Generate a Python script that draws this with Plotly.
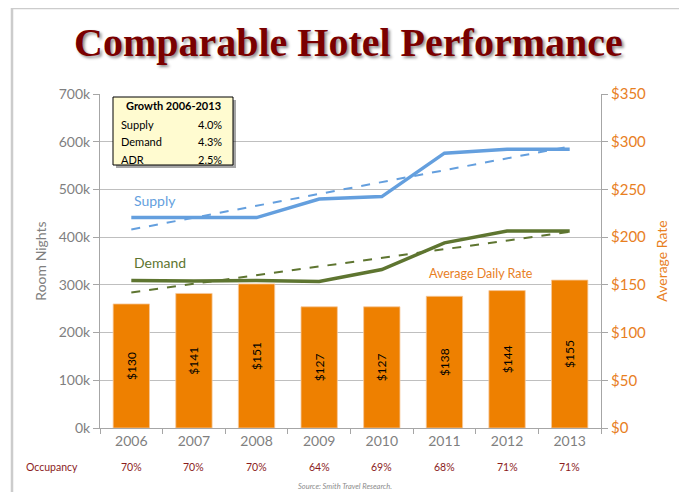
import plotly.graph_objects as go

years = ["2006", "2007", "2008", "2009", "2010", "2011", "2012", "2013"]
supply_k = [441, 441, 441, 480, 485, 576, 584, 584]
demand_k = [309, 308, 309, 307, 332, 388, 413, 413]
adr = [130, 141, 151, 127, 127, 138, 144, 155]
adr_labels = ["$130", "$141", "$151", "$127", "$127", "$138", "$144", "$155"]
occupancy = ["70%", "70%", "70%", "64%", "69%", "68%", "71%", "71%"]
supply_trend_ends = [416, 590]
demand_trend_ends = [284, 411]
growth_rows = [("Supply", "4.0%"), ("Demand", "4.3%"), ("ADR", "2.5%")]

# The page body adds an 8px margin, so the figure is drawn 8px smaller and
# all layout pixel positions (given in window pixels) are shifted by OFF.
OFF = 8
W, H = 687 - OFF, 492 - OFF
L, R, T, B = 100, 601, 94, 428  # plot area in window pixels
BLUE = "#649FDE"
GREEN = "#5E7530"
ORANGE = "#EE8000"
ORANGE_TXT = "#E8801F"
GRAY_TXT = "#7F7F7F"
FONT = "Lato"


def px(x):
    return (x - L) / (R - L)


def py(y):
    return (B - y) / (B - T)


fig = go.Figure()

fig.add_trace(go.Bar(
    x=years, y=adr, marker=dict(color=ORANGE, line=dict(color="#F6C89A", width=0.8)),
    width=0.58, text=adr_labels, textposition="inside", insidetextanchor="middle",
    textangle=-90, textfont=dict(color="black", size=12, family=FONT),
    yaxis="y", showlegend=False, hoverinfo="skip"))

fig.add_trace(go.Scatter(
    x=[years[0], years[-1]], y=supply_trend_ends, mode="lines", yaxis="y2",
    line=dict(color=BLUE, width=2, dash="dash"), showlegend=False))
fig.add_trace(go.Scatter(
    x=[years[0], years[-1]], y=demand_trend_ends, mode="lines", yaxis="y2",
    line=dict(color=GREEN, width=2, dash="dash"), showlegend=False))
fig.add_trace(go.Scatter(
    x=years, y=supply_k, mode="lines", yaxis="y2",
    line=dict(color=BLUE, width=3.5), showlegend=False))
fig.add_trace(go.Scatter(
    x=years, y=demand_k, mode="lines", yaxis="y2",
    line=dict(color=GREEN, width=3.5), showlegend=False))

annotations = []
shapes = []

# Title
annotations.append(dict(
    text="<b>Comparable Hotel Performance</b>", xref="paper", yref="paper",
    x=px(348), y=py(42), showarrow=False, xanchor="center", yanchor="middle",
    font=dict(family="Liberation Serif", size=40, color="#7A0000",
              shadow="2px 2px 3px rgba(0,0,0,0.45)")))

# Series labels
annotations += [
    dict(text="Supply", xref="paper", yref="paper", x=px(132), y=py(200),
         showarrow=False, xanchor="left", yanchor="middle",
         font=dict(family=FONT, size=14, color=BLUE)),
    dict(text="Demand", xref="paper", yref="paper", x=px(132), y=py(263),
         showarrow=False, xanchor="left", yanchor="middle",
         font=dict(family=FONT, size=14, color=GREEN)),
    dict(text="Average Daily Rate", xref="paper", yref="paper", x=px(427), y=py(273),
         showarrow=False, xanchor="left", yanchor="middle",
         font=dict(family=FONT, size=12.5, color=ORANGE_TXT)),
]

# Occupancy row
annotations.append(dict(text="Occupancy", xref="paper", yref="paper", x=px(24), y=py(467),
                        showarrow=False, xanchor="left", yanchor="middle",
                        font=dict(family=FONT, size=10.5, color="#8B1C1C")))
for i, occ in enumerate(occupancy):
    annotations.append(dict(text=occ, xref="x", yref="paper", x=i, y=py(467),
                            showarrow=False, xanchor="center", yanchor="middle",
                            font=dict(family=FONT, size=10.5, color="#8B1C1C")))

# Source
annotations.append(dict(text="<i>Source: Smith Travel Research.</i>", xref="paper", yref="paper",
                        x=px(345), y=py(487), showarrow=False, xanchor="center", yanchor="middle",
                        font=dict(family=FONT, size=7.5, color="#8C8C8C")))

# Growth box
bx0, by0, bx1, by1 = 113, 97, 233, 165
shapes.append(dict(type="rect", xref="paper", yref="paper",
                   x0=px(bx0 + 3), x1=px(bx1 + 3), y0=py(by0 + 3), y1=py(by1 + 3),
                   fillcolor="rgba(0,0,0,0.35)", line=dict(width=0), layer="above"))
shapes.append(dict(type="rect", xref="paper", yref="paper",
                   x0=px(bx0), x1=px(bx1), y0=py(by0), y1=py(by1),
                   fillcolor="#FFFBD0", line=dict(color="black", width=1), layer="above"))
annotations.append(dict(text="<b>Growth 2006-2013</b>", xref="paper", yref="paper",
                        x=px((bx0 + bx1) / 2), y=py(106), showarrow=False,
                        xanchor="center", yanchor="middle",
                        font=dict(family=FONT, size=11, color="black")))
for i, (lab, val) in enumerate(growth_rows):
    yy = py(124 + i * 17.5)
    annotations.append(dict(text=lab, xref="paper", yref="paper", x=px(119), y=yy,
                            showarrow=False, xanchor="left", yanchor="middle",
                            font=dict(family=FONT, size=11, color="black")))
    annotations.append(dict(text=val, xref="paper", yref="paper", x=px(224), y=yy,
                            showarrow=False, xanchor="right", yanchor="middle",
                            font=dict(family=FONT, size=11, color="black")))

# Slide frame lines
shapes.append(dict(type="line", xref="paper", yref="paper", x0=px(12), x1=px(12),
                   y0=py(8), y1=py(492), line=dict(color="#CCCCCC", width=2.5), layer="below"))
shapes.append(dict(type="line", xref="paper", yref="paper", x0=px(11), x1=px(687),
                   y0=py(8), y1=py(8), line=dict(color="#CCCCCC", width=2.5), layer="below"))

fig.update_layout(
    width=W, height=H,
    margin=dict(l=L - OFF, r=687 - R, t=T - OFF, b=492 - B),
    paper_bgcolor="white", plot_bgcolor="white",
    font=dict(family=FONT),
    xaxis=dict(type="category", showline=True, linecolor="#A6A6A6", linewidth=1,
               ticks="outside", tickson="boundaries", ticklen=5, tickcolor="#A6A6A6",
               tickfont=dict(family=FONT, size=14, color=GRAY_TXT), showgrid=False,
               range=[-0.5, 7.5]),
    yaxis=dict(side="right", range=[0, 350], dtick=50, tickprefix="$",
               showgrid=True, gridcolor="#BFBFBF", gridwidth=1, zeroline=False,
               showline=True, linecolor="#A6A6A6", ticks="outside", ticklen=6,
               tickcolor="#A6A6A6",
               tickfont=dict(family=FONT, size=15, color=ORANGE_TXT),
               title=dict(text="Average Rate", font=dict(family=FONT, size=14, color=ORANGE_TXT),
                          standoff=12)),
    yaxis2=dict(side="left", overlaying="y", range=[0, 700], dtick=100, ticksuffix="k",
                showgrid=False, zeroline=False, showline=True, linecolor="#A6A6A6",
                ticks="outside", ticklen=6, tickcolor="#A6A6A6",
                tickfont=dict(family=FONT, size=14, color=GRAY_TXT),
                title=dict(text="Room Nights", font=dict(family=FONT, size=14, color=GRAY_TXT),
                           standoff=8)),
    annotations=annotations, shapes=shapes,
)

fig.write_html("out.html")
